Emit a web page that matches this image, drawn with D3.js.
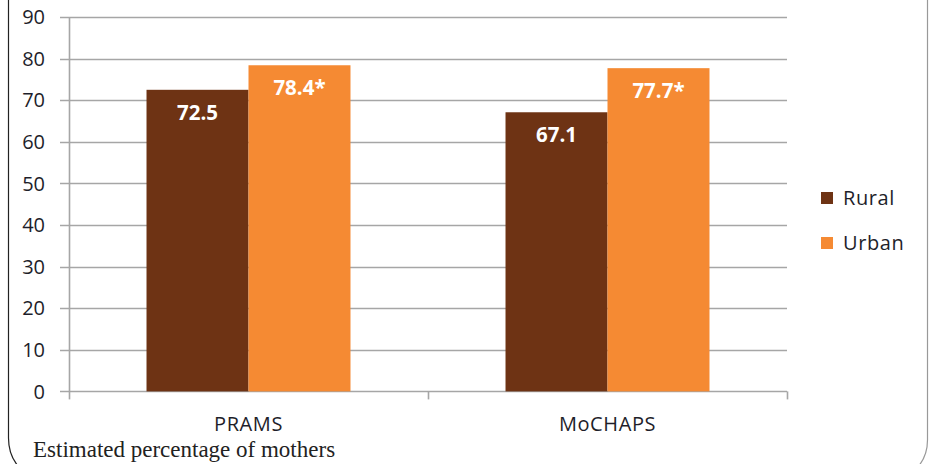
<!DOCTYPE html>
<html><head><meta charset="utf-8">
<script src="https://cdn.jsdelivr.net/npm/d3@7"></script>
<style>body{margin:0;background:#fff}svg{display:block}</style>
</head><body>
<script>
const categories = ["PRAMS", "MoCHAPS"];
const seriesNames = ["Rural", "Urban"];
const rural = [72.5, 67.1];
const urban = [78.4, 77.7];
const ruralLabels = ["72.5", "67.1"];
const urbanLabels = ["78.4*", "77.7*"];
const yTicks = [0,10,20,30,40,50,60,70,80,90];
const colors = ["#6e3314", "#f58a33"];
const caption = "Estimated percentage of mothers";

const W = 929, H = 464;
const svg = d3.select("body").append("svg").attr("width", W).attr("height", H);

// frame
svg.append("path")
  .attr("d", `M8.5,0 L8.5,438 Q8.5,458 22,470`)
  .attr("fill","none").attr("stroke","#222").attr("stroke-width",1.2);
svg.append("path")
  .attr("d", `M927.5,0 L927.5,440 Q927.5,458 915,470`)
  .attr("fill","none").attr("stroke","#999").attr("stroke-width",1.2);

const x0 = 69, x1 = 787, yTop = 17, yBot = 391.4;
const y = d3.scaleLinear().domain([0,90]).range([yBot, yTop]);
const xb = d3.scaleBand().domain(categories).range([x0, x1]).paddingInner(0).paddingOuter(0);
const xs = d3.scaleBand().domain(seriesNames).range([0, xb.bandwidth()]).paddingInner(0).paddingOuter(0.76);

const font = "'Open Sans', 'Noto Sans', sans-serif";

// gridlines
svg.append("g").selectAll("line").data(yTicks).join("line")
  .attr("x1", 60).attr("x2", x1).attr("y1", d=>Math.round(y(d))+0.5).attr("y2", d=>Math.round(y(d))+0.5)
  .attr("stroke","#a6a6a6").attr("stroke-width",1.6);

// y axis
const yAxis = d3.axisLeft(y).tickValues(yTicks).tickSize(0).tickPadding(16);
const gy = svg.append("g").attr("transform",`translate(${x0},0)`).call(yAxis);
gy.select(".domain").remove();
gy.selectAll("text").attr("font-family", font).attr("font-size", 20).attr("fill","#1e1e2a").attr("dx", -8).attr("dy", "0.33em");
svg.append("line").attr("x1",x0+0.5).attr("x2",x0+0.5).attr("y1",yTop).attr("y2",yBot)
  .attr("stroke","#a6a6a6").attr("stroke-width",1.6);

// x axis ticks at band boundaries
const bounds = [x0, x0 + xb.bandwidth(), x1];
svg.append("g").selectAll("line").data(bounds).join("line")
  .attr("x1", d=>d+0.5).attr("x2", d=>d+0.5).attr("y1", yBot).attr("y2", yBot+8)
  .attr("stroke","#a6a6a6").attr("stroke-width",1.6);

const xAxis = d3.axisBottom(xb).tickSize(0).tickPadding(25);
const gx = svg.append("g").attr("transform",`translate(0,${yBot})`).call(xAxis);
gx.select(".domain").remove();
gx.selectAll("text").attr("font-family", font).attr("font-size", 20).attr("letter-spacing","0.6px").attr("fill","#1e1e2a");

// bars
const data = categories.map((c,i)=>({c, vals:[
  {s:"Rural", v:rural[i], label:ruralLabels[i], col:colors[0]},
  {s:"Urban", v:urban[i], label:urbanLabels[i], col:colors[1]}]}));
const g = svg.append("g").selectAll("g").data(data).join("g")
  .attr("transform", d=>`translate(${xb(d.c)},0)`);
g.selectAll("rect").data(d=>d.vals).join("rect")
  .attr("x", d=>xs(d.s)).attr("width", xs.bandwidth())
  .attr("y", d=>y(d.v)).attr("height", d=>y(0)-y(d.v))
  .attr("fill", d=>d.col);
g.selectAll("text").data(d=>d.vals).join("text")
  .attr("x", d=>xs(d.s)+xs.bandwidth()/2).attr("y", d=>y(d.v)+30)
  .attr("text-anchor","middle").attr("font-family", font).attr("font-weight","bold")
  .attr("font-size", 20.5).attr("fill","#fff").text(d=>d.label);

// legend
const lg = svg.append("g").attr("transform","translate(821,198)");
seriesNames.forEach((s,i)=>{
  const row = lg.append("g").attr("transform",`translate(0,${i*45})`);
  row.append("rect").attr("x",0).attr("y",-6).attr("width",12).attr("height",12).attr("fill",colors[i]);
  row.append("text").attr("x",22).attr("y",0).attr("dy","0.35em")
    .attr("font-family",font).attr("font-size",20).attr("letter-spacing","0.6px").attr("fill","#1e1e2a").text(s);
});

// caption
svg.append("text").attr("x",33).attr("y",457).attr("font-family","'Liberation Serif', 'DejaVu Serif', serif")
  .attr("font-size",23).attr("fill","#222").text(caption);
</script>
</body></html>
